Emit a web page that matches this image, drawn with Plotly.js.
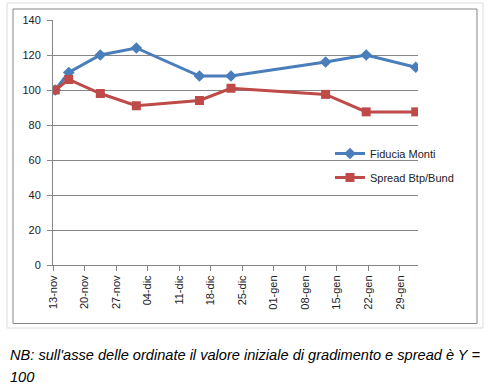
<!DOCTYPE html>
<html>
<head>
<meta charset="utf-8">
<script src="https://cdn.plot.ly/plotly-3.0.1.min.js"></script>
<style>html,body{margin:0;padding:0;background:#fff;}#chart{width:497px;height:391px;}</style>
</head>
<body>
<div id="chart"></div>
<script>
// ---- data ----
const dates = ["2011-11-13","2011-11-16","2011-11-23","2011-12-01","2011-12-15","2011-12-22","2012-01-12","2012-01-21","2012-02-01"];
const fiduciaMonti = [100, 110, 120, 124, 108, 108, 116, 120, 113];
const spreadBtpBund = [100, 106, 98, 91, 94, 101, 97.5, 87.5, 87.5];
const tickDates = ["2011-11-13","2011-11-20","2011-11-27","2011-12-04","2011-12-11","2011-12-18","2011-12-25","2012-01-01","2012-01-08","2012-01-15","2012-01-22","2012-01-29"];
const tickLabels = ["13-nov","20-nov","27-nov","04-dic","11-dic","18-dic","25-dic","01-gen","08-gen","15-gen","22-gen","29-gen"];
const seriesNames = ["Fiducia Monti","Spread Btp/Bund"];
const caption1 = "NB: sull'asse delle ordinate il valore iniziale di gradimento e spread è Y =";
const caption2 = "100";

// ---- layout helpers (pixel -> paper) ----
const W = 497, H = 391, L = 53, R = 418, T = 20, B = 265;
const px = x => (x - L) / (R - L);
const py = y => (B - y) / (B - T);
const mid = d => d + " 12:00";

const blue = "#4a7ebb", red = "#be4b48";
const traces = [
  {x: dates.map(mid), y: fiduciaMonti, name: seriesNames[0], legendgroup: "a", type: "scatter", mode: "lines+markers",
   line: {color: blue, width: 3}, marker: {symbol: "diamond", size: 9, color: blue}},
  {x: dates.map(mid), y: spreadBtpBund, name: seriesNames[1], legendgroup: "b", type: "scatter", mode: "lines+markers",
   line: {color: red, width: 3}, marker: {symbol: "square", size: 9, color: red}}
];

const tickFont = {family: "Liberation Sans, Arial, sans-serif", size: 11, color: "#222"};
const capFont = {family: "Liberation Sans, Arial, sans-serif", size: 14.6, color: "#000", style: "italic"};
const layout = {
  width: W, height: H,
  margin: {l: L, r: W - R, t: T, b: H - B, pad: 0},
  paper_bgcolor: "#fff", plot_bgcolor: "#fff",
  showlegend: true,
  legend: {x: px(330), y: py(139), xanchor: "left", yanchor: "top", font: tickFont,
           bgcolor: "rgba(0,0,0,0)", traceorder: "grouped", tracegroupgap: 5, itemwidth: 30},
  xaxis: {type: "date", range: ["2011-11-13", "2012-02-02"], tickvals: tickDates, ticktext: tickLabels,
          tickangle: -90, tickfont: tickFont, showgrid: false, zeroline: false,
          showline: true, linecolor: "#868686", linewidth: 1, ticks: "outside", ticklen: 5, tickcolor: "#868686"},
  yaxis: {range: [0, 140], tickvals: [0,20,40,60,80,100,120,140], tickfont: tickFont, ticklabelstandoff: 4,
          showgrid: true, gridcolor: "#868686", gridwidth: 1, zeroline: false,
          showline: true, linecolor: "#868686", linewidth: 1, ticks: "outside", ticklen: 5, tickcolor: "#868686"},
  shapes: [
    {type: "rect", xref: "paper", yref: "paper", x0: px(7), x1: px(483), y0: py(328), y1: py(3),
     line: {color: "#dcdcdc", width: 1}},
    {type: "rect", xref: "paper", yref: "paper", x0: px(13), x1: px(477), y0: py(323.5), y1: py(9),
     line: {color: "#868686", width: 1}}
  ],
  annotations: [
    {text: caption1, xref: "paper", yref: "paper", x: px(8), y: py(355), xanchor: "left", yanchor: "middle",
     showarrow: false, font: capFont},
    {text: caption2, xref: "paper", yref: "paper", x: px(8), y: py(377), xanchor: "left", yanchor: "middle",
     showarrow: false, font: capFont}
  ]
};
Plotly.newPlot("chart", traces, layout, {staticPlot: true, displayModeBar: false});
</script>
</body>
</html>
